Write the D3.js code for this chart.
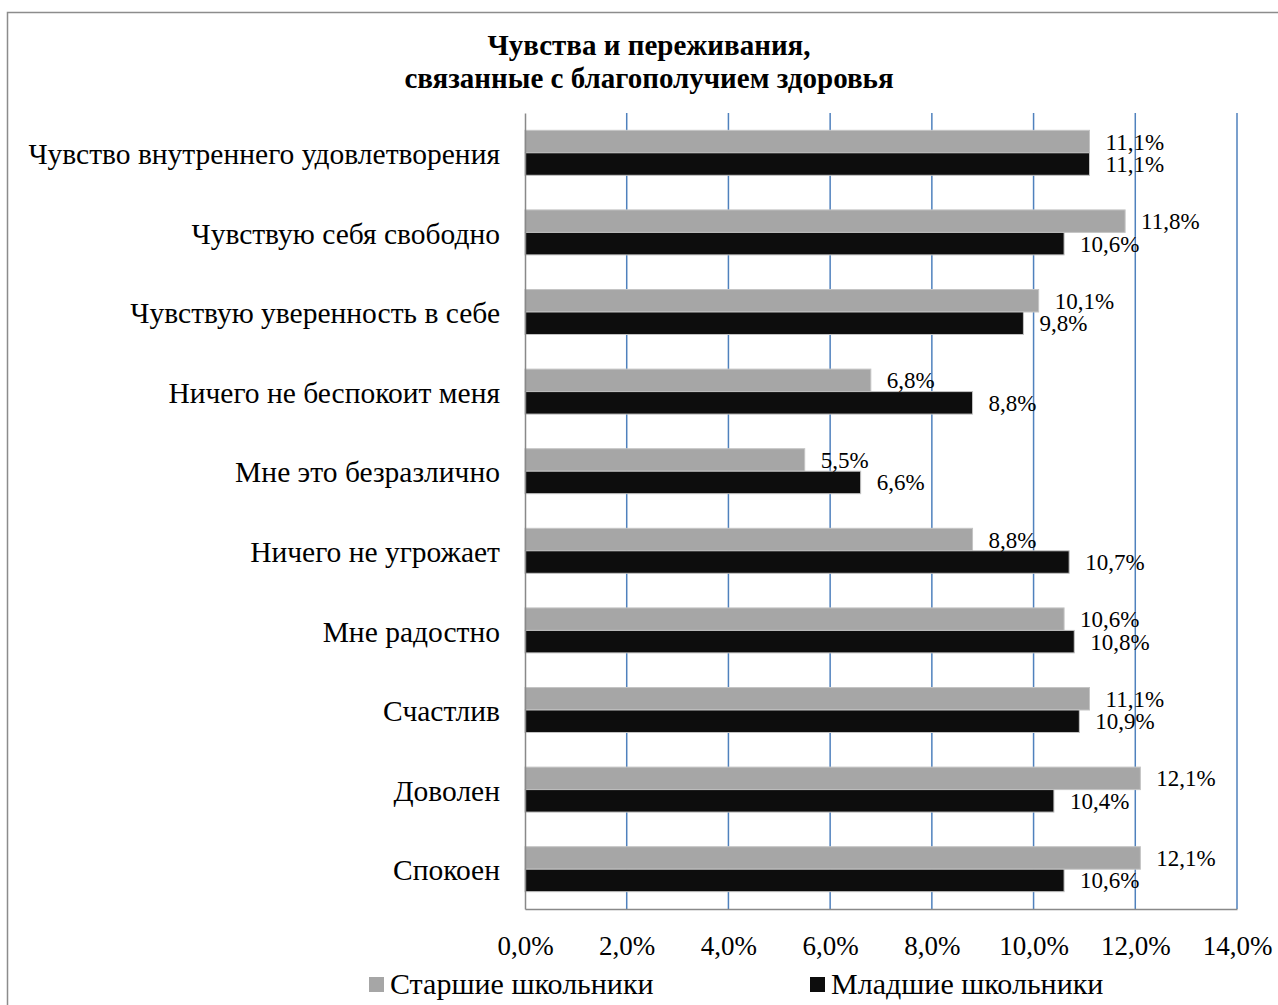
<!DOCTYPE html>
<html>
<head>
<meta charset="utf-8">
<script src="https://cdn.jsdelivr.net/npm/d3@7"></script>
<style>
  body { margin: 0; background: #fff; }
  svg { display: block; font-family: "Liberation Serif", "Times New Roman", serif; }
</style>
</head>
<body>
<svg id="chart" width="1278" height="1005"></svg>
<script>
// categories, top to bottom
const categories = [
  'Чувство внутреннего удовлетворения',
  'Чувствую себя свободно',
  'Чувствую уверенность в себе',
  'Ничего не беспокоит меня',
  'Мне это безразлично',
  'Ничего не угрожает',
  'Мне радостно',
  'Счастлив',
  'Доволен',
  'Спокоен'
];
const seniors = [11.1, 11.8, 10.1, 6.8, 5.5, 8.8, 10.6, 11.1, 12.1, 12.1];
const juniors = [11.1, 10.6, 9.8, 8.8, 6.6, 10.7, 10.8, 10.9, 10.4, 10.6];
const seriesNames = ['Старшие школьники', 'Младшие школьники'];
const xTicks = [0, 2, 4, 6, 8, 10, 12, 14];
const titleLines = ['Чувства и переживания,', 'связанные с благополучием здоровья'];

const fmt = v => v.toFixed(1).replace('.', ',') + '%';
const colors = ['#a6a6a6', '#0d0d0d'];

const svg = d3.select('#chart');
const plotL = 525, plotR = 1237, plotT = 113, plotB = 909;

// outer frame
svg.append('rect')
  .attr('x', 7.5).attr('y', 12.5).attr('width', 1300).attr('height', 1100)
  .attr('fill', 'none').attr('stroke', '#8c8c8c').attr('stroke-width', 1.5);

// title
svg.append('text')
  .attr('text-anchor', 'middle')
  .attr('font-weight', 'bold').attr('font-size', 29)
  .selectAll('tspan').data(titleLines).join('tspan')
  .attr('x', 649).attr('y', (d, i) => 55 + i * 33)
  .text(d => d);

const x = d3.scaleLinear().domain([0, 14]).range([plotL, plotR]);
const y = d3.scaleBand().domain(categories).range([plotT, plotB])
  .paddingInner(0.435).paddingOuter(0.2175);
const sub = d3.scaleBand().domain([0, 1]).range([0, y.bandwidth()]);

// gridlines
svg.append('g').selectAll('line').data(xTicks.filter(t => t > 0)).join('line')
  .attr('x1', d => x(d)).attr('x2', d => x(d))
  .attr('y1', plotT).attr('y2', plotB)
  .attr('stroke', '#4f81bd').attr('stroke-width', 1.5);

// bars
const rows = categories.map((c, i) => ({ c, vals: [seniors[i], juniors[i]] }));
const grp = svg.append('g').selectAll('g').data(rows).join('g')
  .attr('transform', d => `translate(0,${y(d.c)})`);

grp.selectAll('rect').data(d => d.vals).join('rect')
  .attr('x', plotL)
  .attr('y', (d, i) => sub(i))
  .attr('width', d => x(d) - plotL)
  .attr('height', sub.bandwidth())
  .attr('fill', (d, i) => colors[i])
  .attr('stroke', '#c4c4c4').attr('stroke-width', 1);

grp.selectAll('text').data(d => d.vals).join('text')
  .attr('x', d => x(d) + 16)
  .attr('y', (d, i) => sub(i) + sub.bandwidth() / 2 + 8)
  .attr('font-size', 23)
  .text(fmt);

// axes
const xAxis = svg.append('g')
  .attr('transform', `translate(0,${plotB})`)
  .call(d3.axisBottom(x).tickValues(xTicks).tickSize(0).tickPadding(27).tickFormat(d => fmt(d)))
  .attr('font-family', null);
xAxis.select('.domain').attr('stroke', '#898989').attr('stroke-width', 1.5);
xAxis.selectAll('text').attr('font-size', 27).attr('fill', '#000');

const yAxis = svg.append('g')
  .attr('transform', `translate(${plotL},0)`)
  .call(d3.axisLeft(y).tickSize(0).tickPadding(25))
  .attr('font-family', null);
yAxis.select('.domain').attr('stroke', '#898989').attr('stroke-width', 1.5);
yAxis.selectAll('text').attr('font-size', 29.5).attr('dy', '0.38em').attr('fill', '#000');

// legend
const legendX = [369, 810];
const lg = svg.append('g').selectAll('g').data(seriesNames).join('g')
  .attr('transform', (d, i) => `translate(${legendX[i]},977)`);
lg.append('rect').attr('x', 0).attr('y', 0).attr('width', 15).attr('height', 15)
  .attr('fill', (d, i) => colors[i]);
lg.append('text').attr('x', 21).attr('y', 17).attr('font-size', 30).text(d => d);
</script>
</body>
</html>
